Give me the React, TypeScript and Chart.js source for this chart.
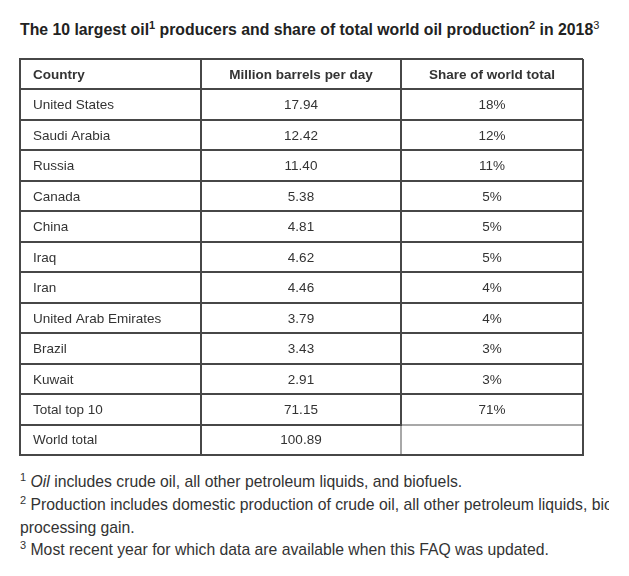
import React, { useEffect, useRef } from "react";
import { Chart, registerables } from "chart.js";

Chart.register(...registerables);

// ---- data ----
const columnHeaders = ["Country", "Million barrels per day", "Share of world total"];
const countries = [
  "United States",
  "Saudi Arabia",
  "Russia",
  "Canada",
  "China",
  "Iraq",
  "Iran",
  "United Arab Emirates",
  "Brazil",
  "Kuwait",
  "Total top 10",
  "World total",
];
const barrelsPerDay = [17.94, 12.42, 11.4, 5.38, 4.81, 4.62, 4.46, 3.79, 3.43, 2.91, 71.15, 100.89];
const shareOfWorld: (number | null)[] = [18, 12, 11, 5, 5, 5, 4, 4, 3, 3, 71, null];

// ---- layout (not data) ----
const colEdges = [0, 181, 381, 563];
const FONT = '"Liberation Sans", Arial, Helvetica, sans-serif';
const LINE = "#474747";
const LIGHT = "#a8a8a8";
const TEXT = "#333333";

const tablePlugin = {
  id: "tableCells",
  beforeDatasetsDraw(chart: any) {
    const { ctx, scales } = chart;
    const xs = scales.x;
    const ys = scales.y;
    const nRows = countries.length + 1;
    // lighter border around the empty cell (World total / share)
    ctx.save();
    ctx.strokeStyle = LIGHT;
    ctx.lineWidth = 2;
    ctx.lineCap = "butt";
    const xl = Math.round(xs.getPixelForValue(colEdges[2]));
    const xr = Math.round(xs.getPixelForValue(colEdges[3]));
    const yt = Math.round(ys.getPixelForValue(nRows - 1));
    const yb = Math.round(ys.getPixelForValue(nRows));
    ctx.beginPath();
    ctx.moveTo(xl, yt + 1);
    ctx.lineTo(xl, yb - 1);
    ctx.moveTo(xl + 1, yt);
    ctx.lineTo(xr - 1, yt);
    ctx.stroke();
    ctx.restore();
  },
  afterDatasetsDraw(chart: any) {
    const { ctx, scales } = chart;
    const xs = scales.x;
    const ys = scales.y;
    ctx.save();
    ctx.fillStyle = TEXT;
    ctx.textBaseline = "middle";
    const cellX = (c: number) =>
      c === 0
        ? xs.getPixelForValue(colEdges[0]) + 13
        : xs.getPixelForValue((colEdges[c] + colEdges[c + 1]) / 2);
    const align = (c: number) => (c === 0 ? "left" : "center");
    // header
    ctx.font = `bold 13.5px ${FONT}`;
    columnHeaders.forEach((h, c) => {
      ctx.textAlign = align(c);
      ctx.fillText(h, cellX(c), ys.getPixelForValue(0.5) + 1);
    });
    ctx.font = `13.5px ${FONT}`;
    countries.forEach((name, r) => {
      const y = ys.getPixelForValue(r + 1.5) + 1;
      const cells = [
        name,
        barrelsPerDay[r].toFixed(2),
        shareOfWorld[r] == null ? "" : `${shareOfWorld[r]}%`,
      ];
      cells.forEach((t, c) => {
        ctx.textAlign = align(c);
        ctx.fillText(t, cellX(c), y);
      });
    });
    ctx.restore();
  },
};

function TableChart() {
  const ref = useRef<HTMLCanvasElement | null>(null);
  useEffect(() => {
    if (!ref.current) return;
    const nRows = countries.length + 1;
    const chart = new Chart(ref.current, {
      type: "scatter",
      data: { datasets: [{ data: [], pointRadius: 0 }] },
      options: {
        animation: false,
        responsive: false,
        events: [],
        layout: { padding: { left: 4, right: 4, top: 4, bottom: 4 } },
        plugins: { legend: { display: false }, tooltip: { enabled: false } },
        scales: {
          x: {
            type: "linear",
            min: colEdges[0],
            max: colEdges[colEdges.length - 1],
            afterBuildTicks: (s: any) => {
              s.ticks = colEdges.map((v) => ({ value: v }));
            },
            ticks: { display: false },
            grid: { color: LINE, lineWidth: 2, drawTicks: false },
            border: { display: true, color: LINE, width: 2 },
          },
          y: {
            type: "linear",
            min: 0,
            max: nRows,
            reverse: true,
            afterBuildTicks: (s: any) => {
              s.ticks = Array.from({ length: nRows + 1 }, (_, i) => ({ value: i }));
            },
            ticks: { display: false },
            grid: { color: LINE, lineWidth: 2, drawTicks: false },
            border: { display: true, color: LINE, width: 2 },
          },
        },
      },
      plugins: [tablePlugin],
    } as any);
    return () => chart.destroy();
  }, []);
  return (
    <canvas
      ref={ref}
      width={571}
      height={404}
      style={{ position: "absolute", left: 16, top: 55, width: 571, height: 404 }}
    />
  );
}

const supStyle: React.CSSProperties = {
  fontSize: 11,
  position: "relative",
  top: -6,
  verticalAlign: "baseline",
};

export default function App() {
  return (
    <div
      style={{
        position: "absolute",
        left: 0,
        top: 0,
        width: 629,
        height: 576,
        overflow: "hidden",
        background: "#fff",
        fontFamily: FONT,
        color: "#222",
      }}
    >
      <div
        style={{
          position: "absolute",
          left: 20,
          top: 21,
          fontSize: 15.8,
          fontWeight: "bold",
          whiteSpace: "nowrap",
        }}
      >
        The 10 largest oil<span style={supStyle}>1</span> producers and share of total world oil
        production<span style={supStyle}>2</span> in 2018
        <span style={{ ...supStyle, fontWeight: "normal" }}>3</span>
      </div>
      <TableChart />
      <div
        style={{
          position: "absolute",
          left: 20,
          top: 471,
          width: 589,
          overflow: "hidden",
          fontSize: 15.75,
          lineHeight: "22px",
          color: "#333",
          whiteSpace: "nowrap",
        }}
      >
        <div>
          <span style={supStyle}>1</span> <i>Oil</i> includes crude oil, all other petroleum
          liquids, and biofuels.
        </div>
        <div>
          <span style={supStyle}>2</span> Production includes domestic production of crude oil, all
          other petroleum liquids, biofuels, and refinery
        </div>
        <div>processing gain.</div>
        <div>
          <span style={supStyle}>3</span> Most recent year for which data are available when this
          FAQ was updated.
        </div>
      </div>
    </div>
  );
}
